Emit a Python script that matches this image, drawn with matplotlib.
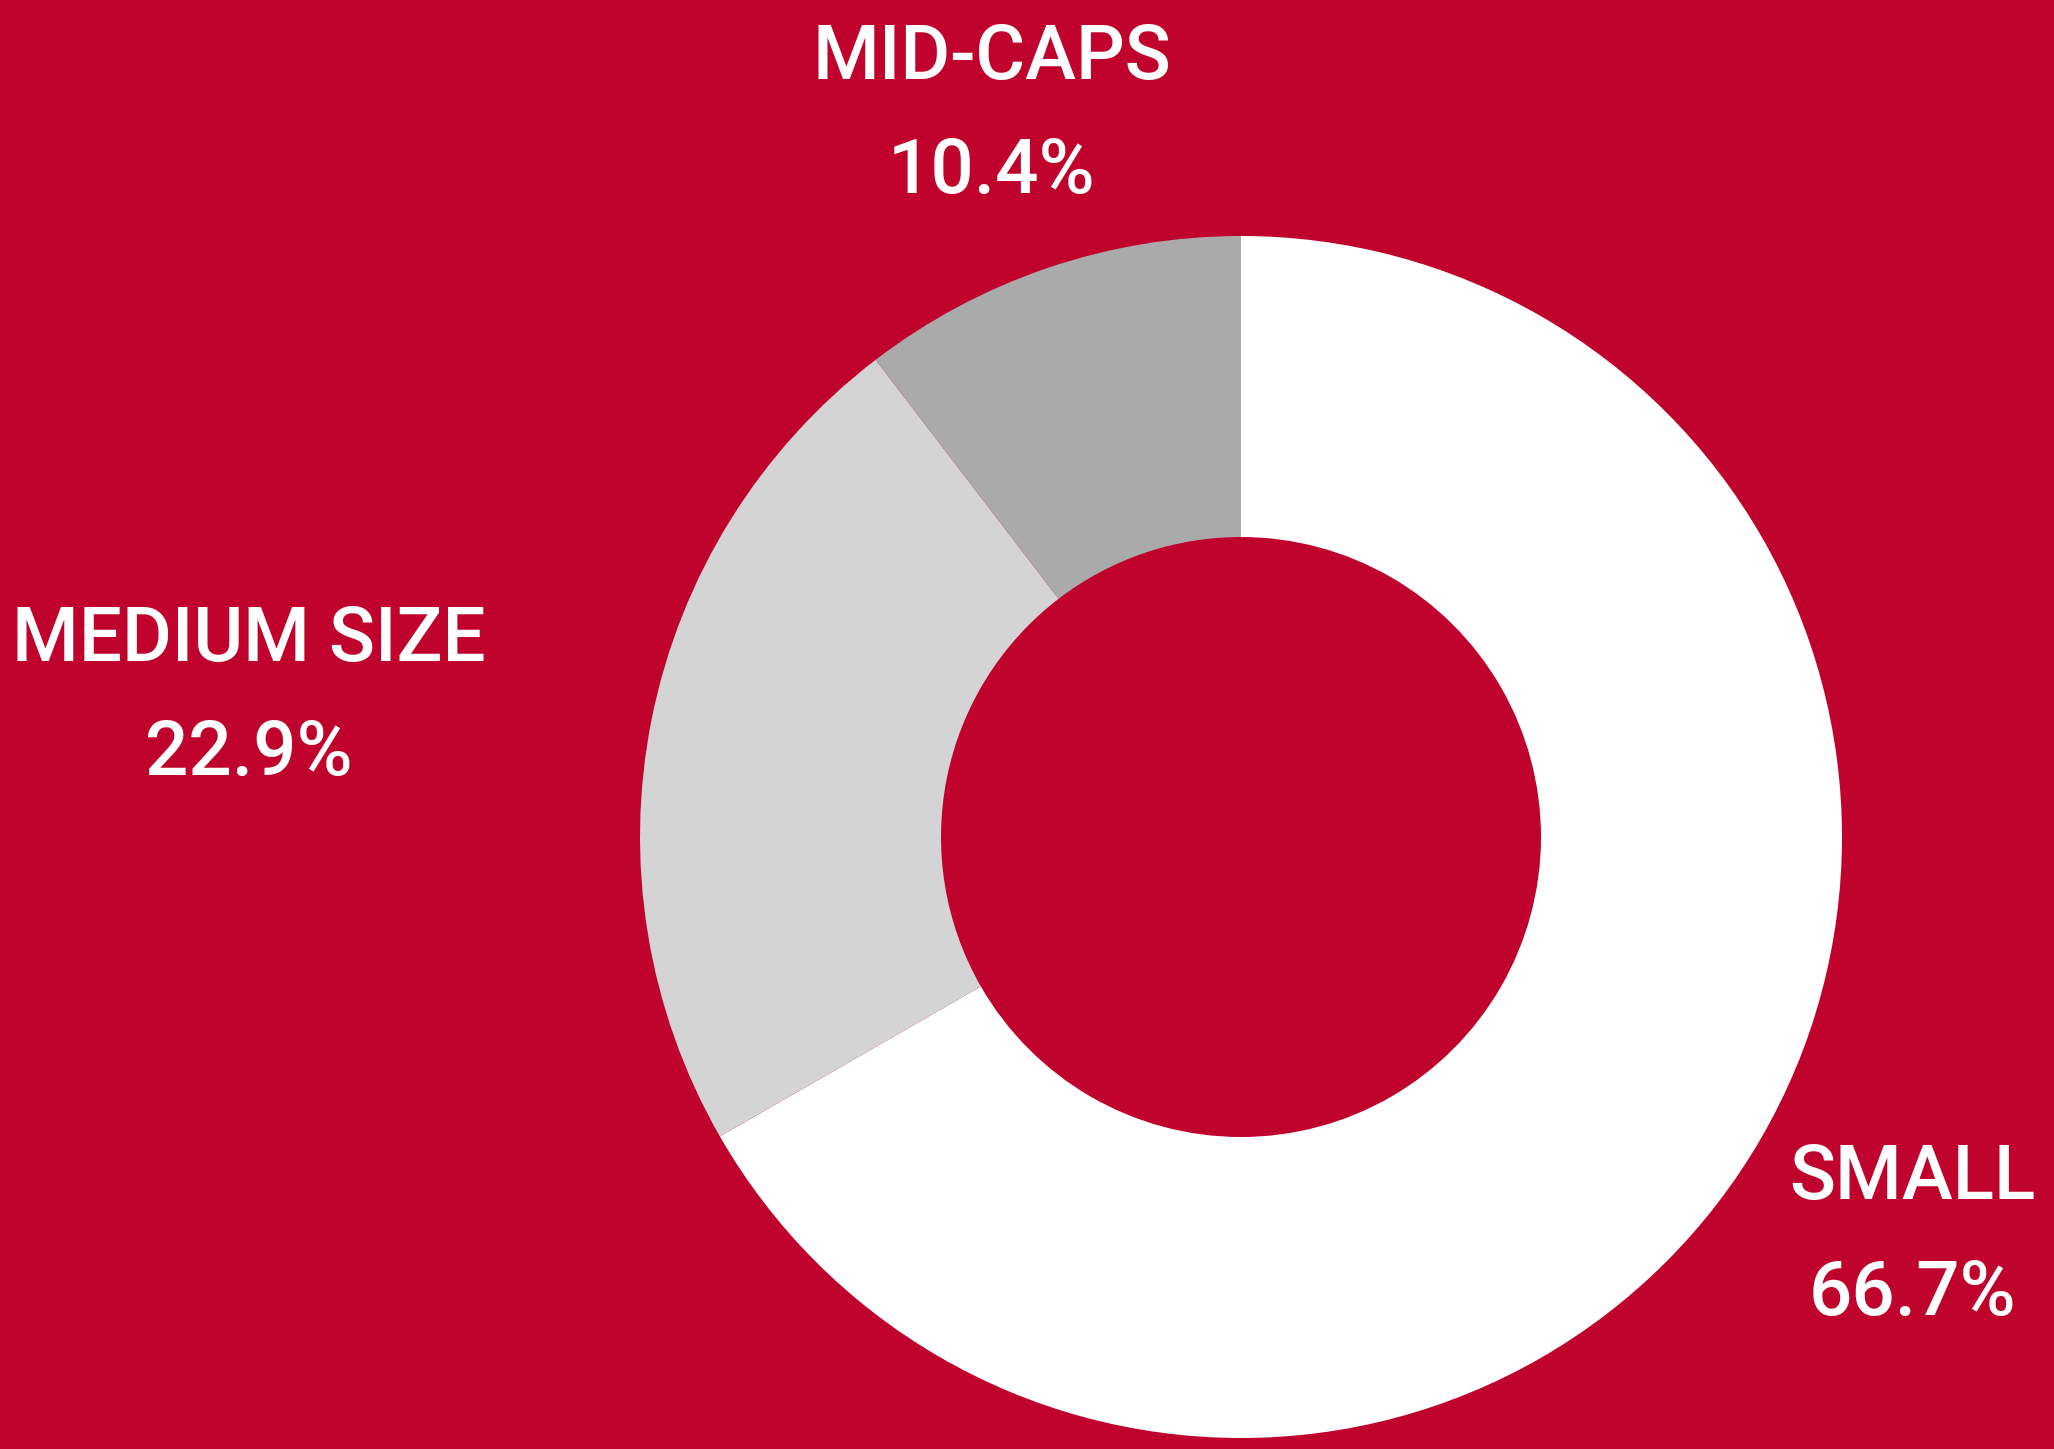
import matplotlib
matplotlib.use("Agg")
import matplotlib.pyplot as plt

# data
categories = ["SMALL", "MEDIUM SIZE", "MID-CAPS"]
shares = [66.7, 22.9, 10.4]
slice_colors = ["#FFFFFF", "#D4D4D4", "#AAAAAA"]

BG = "#C0032C"
W, H = 2054, 1449

fig = plt.figure(figsize=(W / 100, H / 100), dpi=100, facecolor=BG)
ax = fig.add_axes([0, 0, 1, 1])
ax.set_facecolor(BG)
ax.set_xlim(0, W)
ax.set_ylim(0, H)
ax.set_aspect("equal")
ax.axis("off")

# donut, clockwise from 12 o'clock
ax.pie(shares, colors=slice_colors, startangle=90, counterclock=False,
       center=(1241, H - 837), radius=601,
       wedgeprops=dict(width=301, linewidth=0))
ax.set_xlim(0, W)
ax.set_ylim(0, H)

# label anchor points (pixel space, top-left origin)
label_pos = {
    "SMALL": (1912, 1170, 1286),
    "MEDIUM SIZE": (249, 632, 746),
    "MID-CAPS": (992, 51, 165),
}

font = dict(family="Roboto", weight="medium", color="white", fontsize=55)
for name, val in zip(categories, shares):
    x, y1, y2 = label_pos[name]
    ax.text(x, H - y1, name, ha="center", va="center_baseline", **font)
    ax.text(x, H - y2, f"{val:.1f}%", ha="center", va="center_baseline", **font)

fig.savefig("out.png", dpi=100, facecolor=BG)
